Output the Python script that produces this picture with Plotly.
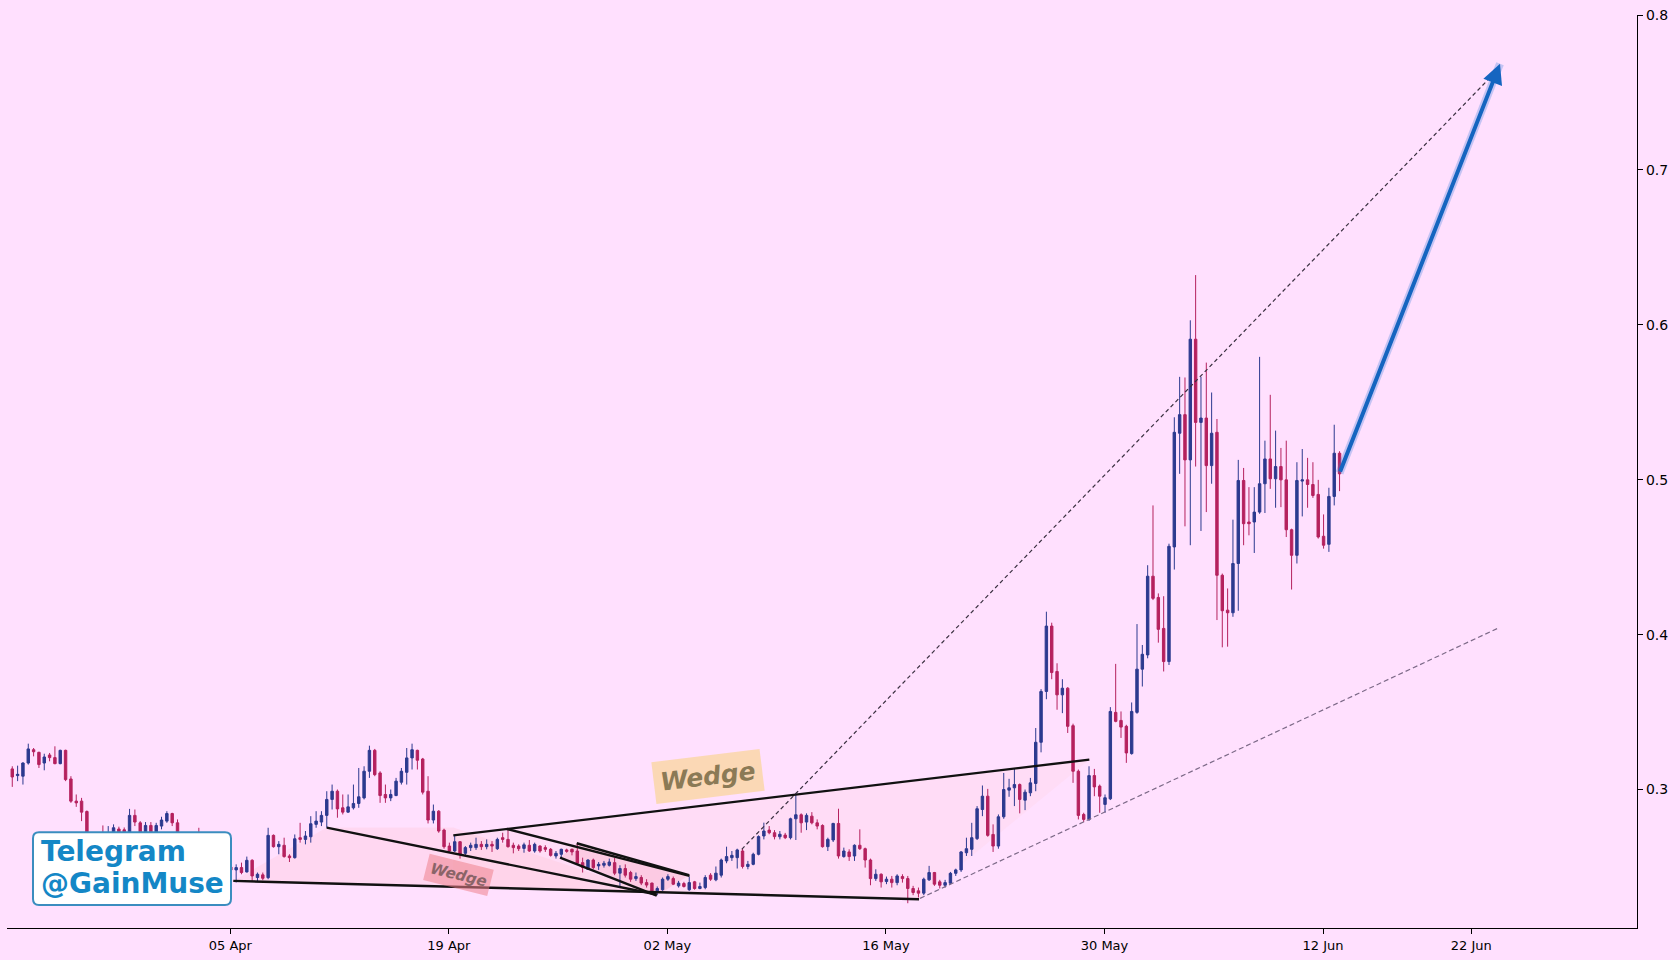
import plotly.graph_objects as go

# ---------------- data (8h candles, index based x axis) ----------------
opens = [0.3133,0.3090,0.3086,0.3171,0.3257,0.3240,0.3171,0.3223,0.3206,0.3167,
0.3253,0.3068,0.2925,0.2925,0.2858,0.2700,0.2640,0.2690,0.2660,0.2700,
0.2745,0.2740,0.2700,0.2833,0.2785,0.2715,0.2768,0.2715,0.2764,0.2796,
0.2845,0.2785,0.2705,0.2640,0.2590,0.2640,0.2600,0.2560,0.2600,0.2520,
0.2470,0.2500,0.2481,0.2496,0.2468,0.2543,0.2432,0.2449,0.2431,0.2704,
0.2631,0.2640,0.2571,0.2560,0.2689,0.2678,0.2695,0.2775,0.2790,0.2833,
0.2936,0.2989,0.2882,0.2854,0.2882,0.2910,0.2946,0.3118,0.3253,0.3107,
0.2968,0.2946,0.2961,0.3047,0.3111,0.3204,0.3253,0.3197,0.2989,0.2803,
0.2860,0.2738,0.2635,0.2603,0.2663,0.2588,0.2625,0.2625,0.2646,0.2631,
0.2646,0.2618,0.2689,0.2678,0.2640,0.2635,0.2620,0.2640,0.2603,0.2635,
0.2625,0.2614,0.2571,0.2582,0.2610,0.2614,0.2603,0.2528,0.2485,0.2545,
0.2507,0.2511,0.2511,0.2528,0.2460,0.2490,0.2464,0.2425,0.2432,0.2399,
0.2396,0.2346,0.2353,0.2421,0.2425,0.2378,0.2393,0.2353,0.2404,0.2361,
0.2367,0.2447,0.2417,0.2447,0.2539,0.2560,0.2560,0.2603,0.2503,0.2517,
0.2582,0.2700,0.2738,0.2721,0.2695,0.2706,0.2689,0.2811,0.2837,0.2790,
0.2828,0.2785,0.2768,0.2631,0.2674,0.2781,0.2567,0.2597,0.2571,0.2640,
0.2618,0.2545,0.2425,0.2453,0.2406,0.2421,0.2399,0.2438,0.2425,0.2361,
0.2346,0.2331,0.2417,0.2464,0.2404,0.2382,0.2395,0.2459,0.2481,0.2592,
0.2614,0.2683,0.2871,0.2957,0.2710,0.2635,0.2824,0.2996,0.3011,0.3032,
0.2931,0.2979,0.3039,0.3305,0.3633,0.4055,0.3762,0.3611,0.3654,0.3412,
0.3118,0.2839,0.2807,0.3090,0.3022,0.2904,0.2940,0.3498,0.3446,0.3408,
0.3232,0.3498,0.3777,0.3869,0.4377,0.4240,0.4040,0.3826,0.4566,0.5300,
0.5420,0.5128,0.5907,0.5370,0.5398,0.5091,0.5306,0.4383,0.4158,0.4141,
0.4459,0.4995,0.4727,0.4727,0.4791,0.4974,0.5134,0.5006,0.5085,0.4999,
0.4677,0.4512,0.4991,0.4999,0.4969,0.4905,0.4635,0.4583,0.4892,0.5171]

highs = [0.3150,0.3154,0.3176,0.3296,0.3268,0.3244,0.3231,0.3236,0.3279,0.3257,
0.3257,0.3086,0.2968,0.2946,0.2865,0.2715,0.2710,0.2768,0.2764,0.2775,
0.2760,0.2755,0.2875,0.2871,0.2796,0.2790,0.2790,0.2785,0.2824,0.2860,
0.2850,0.2807,0.2715,0.2660,0.2721,0.2753,0.2630,0.2620,0.2610,0.2540,
0.2520,0.2510,0.2517,0.2528,0.2567,0.2550,0.2464,0.2464,0.2753,0.2710,
0.2667,0.2689,0.2582,0.2710,0.2785,0.2732,0.2828,0.2860,0.2860,0.2989,
0.3032,0.3000,0.2968,0.2968,0.3032,0.3139,0.3150,0.3283,0.3262,0.3118,
0.3032,0.3000,0.3075,0.3139,0.3268,0.3296,0.3257,0.3204,0.3086,0.2903,
0.2867,0.2747,0.2657,0.2704,0.2667,0.2635,0.2657,0.2689,0.2667,0.2678,
0.2667,0.2689,0.2721,0.2743,0.2657,0.2646,0.2657,0.2674,0.2657,0.2640,
0.2640,0.2622,0.2603,0.2618,0.2618,0.2618,0.2653,0.2560,0.2550,0.2554,
0.2532,0.2539,0.2554,0.2560,0.2511,0.2517,0.2475,0.2464,0.2447,0.2421,
0.2399,0.2374,0.2432,0.2453,0.2438,0.2410,0.2404,0.2438,0.2410,0.2399,
0.2447,0.2460,0.2503,0.2554,0.2631,0.2603,0.2618,0.2618,0.2539,0.2592,
0.2704,0.2786,0.2764,0.2738,0.2732,0.2720,0.2818,0.2974,0.2846,0.2846,
0.2854,0.2807,0.2775,0.2689,0.2785,0.2876,0.2625,0.2614,0.2646,0.2743,
0.2625,0.2554,0.2485,0.2459,0.2438,0.2442,0.2453,0.2453,0.2442,0.2378,
0.2367,0.2431,0.2507,0.2468,0.2417,0.2417,0.2468,0.2489,0.2603,0.2689,
0.2785,0.2893,0.3026,0.3004,0.2775,0.2839,0.3107,0.3069,0.3133,0.3039,
0.3000,0.3075,0.3397,0.3648,0.4148,0.4077,0.3815,0.3712,0.3661,0.3425,
0.3129,0.2850,0.3150,0.3133,0.3032,0.2968,0.3532,0.3811,0.3504,0.3418,
0.3562,0.4068,0.3933,0.4448,0.4834,0.4266,0.4248,0.4587,0.5403,0.5664,
0.5660,0.6029,0.6321,0.5664,0.5756,0.5563,0.5392,0.4394,0.4298,0.4742,
0.5128,0.5076,0.4952,0.4952,0.5793,0.5252,0.5548,0.5317,0.5205,0.5252,
0.4684,0.5113,0.5198,0.5141,0.5113,0.4999,0.4776,0.4948,0.5355,0.5184]

lows = [0.3017,0.3054,0.3032,0.3161,0.3214,0.3139,0.3124,0.3182,0.3163,0.3163,
0.3054,0.2914,0.2888,0.2796,0.2660,0.2620,0.2625,0.2640,0.2650,0.2690,
0.2700,0.2690,0.2690,0.2764,0.2700,0.2705,0.2700,0.2705,0.2743,0.2785,
0.2764,0.2690,0.2620,0.2570,0.2580,0.2585,0.2540,0.2545,0.2500,0.2450,
0.2440,0.2410,0.2400,0.2453,0.2464,0.2404,0.2404,0.2415,0.2421,0.2625,
0.2582,0.2560,0.2532,0.2554,0.2657,0.2646,0.2657,0.2753,0.2764,0.2753,
0.2871,0.2818,0.2839,0.2850,0.2871,0.2882,0.2936,0.3075,0.3086,0.2914,
0.2914,0.2925,0.2957,0.3032,0.3032,0.3129,0.3129,0.2968,0.2781,0.2781,
0.2721,0.2618,0.2592,0.2597,0.2554,0.2575,0.2603,0.2610,0.2610,0.2614,
0.2597,0.2610,0.2657,0.2625,0.2588,0.2603,0.2592,0.2597,0.2592,0.2592,
0.2597,0.2567,0.2554,0.2554,0.2592,0.2575,0.2517,0.2464,0.2481,0.2485,
0.2481,0.2496,0.2503,0.2447,0.2367,0.2432,0.2404,0.2410,0.2383,0.2367,
0.2340,0.2318,0.2346,0.2410,0.2383,0.2367,0.2367,0.2346,0.2353,0.2356,
0.2356,0.2410,0.2408,0.2432,0.2524,0.2539,0.2490,0.2490,0.2485,0.2511,
0.2575,0.2678,0.2711,0.2678,0.2678,0.2680,0.2678,0.2674,0.2721,0.2738,
0.2775,0.2743,0.2625,0.2603,0.2661,0.2554,0.2560,0.2539,0.2539,0.2610,
0.2496,0.2382,0.2410,0.2367,0.2389,0.2367,0.2382,0.2399,0.2266,0.2318,
0.2303,0.2318,0.2410,0.2378,0.2361,0.2367,0.2389,0.2442,0.2468,0.2571,
0.2571,0.2674,0.2828,0.2695,0.2597,0.2618,0.2811,0.2953,0.2893,0.2846,
0.2867,0.2957,0.2989,0.3240,0.3583,0.3712,0.3515,0.3493,0.3365,0.3043,
0.2807,0.2790,0.2797,0.2957,0.2850,0.2850,0.2932,0.3434,0.3333,0.3172,
0.3225,0.3489,0.3665,0.3847,0.4223,0.3948,0.3762,0.3804,0.4420,0.5038,
0.4699,0.4577,0.5085,0.4669,0.4791,0.4974,0.4094,0.3918,0.3922,0.4115,
0.4154,0.4577,0.4641,0.4527,0.4780,0.4785,0.4941,0.4819,0.4823,0.4630,
0.4291,0.4459,0.4763,0.4819,0.4883,0.4620,0.4555,0.4534,0.4834,0.4926]

closes = [0.3081,0.3098,0.3171,0.3262,0.3244,0.3161,0.3210,0.3206,0.3167,0.3253,
0.3064,0.2925,0.2914,0.2854,0.2700,0.2640,0.2680,0.2660,0.2700,0.2753,
0.2725,0.2715,0.2833,0.2790,0.2715,0.2768,0.2715,0.2768,0.2803,0.2845,
0.2785,0.2705,0.2640,0.2590,0.2640,0.2600,0.2560,0.2600,0.2520,0.2470,
0.2500,0.2480,0.2496,0.2464,0.2543,0.2442,0.2453,0.2427,0.2704,0.2631,
0.2646,0.2567,0.2560,0.2682,0.2678,0.2700,0.2779,0.2796,0.2833,0.2936,
0.2989,0.2875,0.2854,0.2888,0.2910,0.2953,0.3118,0.3253,0.3096,0.2961,
0.2946,0.2968,0.3054,0.3118,0.3204,0.3257,0.3189,0.2983,0.2803,0.2860,
0.2732,0.2631,0.2603,0.2663,0.2582,0.2625,0.2640,0.2646,0.2631,0.2646,
0.2635,0.2678,0.2678,0.2631,0.2625,0.2618,0.2643,0.2603,0.2646,0.2603,
0.2614,0.2575,0.2588,0.2614,0.2601,0.2597,0.2524,0.2496,0.2545,0.2496,
0.2517,0.2524,0.2532,0.2460,0.2490,0.2447,0.2421,0.2438,0.2396,0.2383,
0.2346,0.2361,0.2421,0.2438,0.2389,0.2396,0.2374,0.2399,0.2361,0.2374,
0.2432,0.2421,0.2460,0.2545,0.2567,0.2575,0.2610,0.2503,0.2517,0.2582,
0.2696,0.2732,0.2721,0.2696,0.2711,0.2689,0.2811,0.2837,0.2785,0.2833,
0.2785,0.2764,0.2631,0.2678,0.2781,0.2571,0.2603,0.2567,0.2640,0.2618,
0.2545,0.2425,0.2453,0.2404,0.2421,0.2399,0.2442,0.2425,0.2361,0.2335,
0.2331,0.2421,0.2464,0.2389,0.2382,0.2399,0.2459,0.2481,0.2597,0.2618,
0.2689,0.2876,0.2957,0.2704,0.2635,0.2824,0.3000,0.3011,0.3032,0.2936,
0.2983,0.3043,0.3305,0.3633,0.4055,0.3755,0.3611,0.3654,0.3408,0.3118,
0.2833,0.2807,0.3090,0.3017,0.2957,0.2947,0.3504,0.3440,0.3403,0.3236,
0.3504,0.3777,0.3873,0.4377,0.4234,0.4034,0.3826,0.4570,0.5306,0.5420,
0.5128,0.5907,0.5370,0.5398,0.5091,0.5300,0.4383,0.4154,0.4141,0.4459,
0.4995,0.4716,0.4716,0.4791,0.4974,0.5134,0.5006,0.5085,0.4999,0.4677,
0.4512,0.4995,0.4999,0.4969,0.4898,0.4630,0.4577,0.4892,0.5171,0.5038]

tick_pos = [40.9, 81.9, 122.9, 163.9, 204.9, 245.9, 273.7]
tick_labels = ["05 Apr", "19 Apr", "02 May", "16 May", "30 May", "12 Jun", "22 Jun"]
ytick_vals = [0.3, 0.4, 0.5, 0.6, 0.7, 0.8]
ytick_labels = ["0.3", "0.4", "0.5", "0.6", "0.7", "0.8"]

# drawn lines: (x0, y0, x1, y1) in candle index / price
wedge_lines = [
    (82.74, 0.2704, 202.06, 0.3193),   # big wedge top
    (41.46, 0.2410, 170.11, 0.2292),   # big wedge bottom
    (58.99, 0.2754, 120.90, 0.2322),   # small wedge top
    (92.81, 0.2745, 127.05, 0.2443),   # inner line
    (105.89, 0.2653, 126.96, 0.2447),  # channel top
    (102.76, 0.2560, 120.90, 0.2315),  # channel bottom
]
dash_main = (136.85, 0.2614, 278.74, 0.7649)
dash_support = (170.30, 0.2297, 278.74, 0.4042)
arrow_line = (249.0, 0.5043, 279.1, 0.7685)

big_fill = [(82.74, 0.2704), (202.06, 0.3193), (170.11, 0.2292), (82.74, 0.2372)]
small_fill = [(41.46, 0.2410), (58.99, 0.2754), (82.74, 0.2754), (120.90, 0.2322), (120.90, 0.2330)]
channel_fill = [(105.89, 0.2653), (126.96, 0.2447), (120.90, 0.2315), (102.76, 0.2560)]

BG = "#FFE0FE"
UP = "#2C3A8F"
DOWN = "#B5215E"

xs = list(range(len(opens)))

fig = go.Figure()

fig.add_trace(go.Candlestick(
    x=xs, open=opens, high=highs, low=lows, close=closes,
    increasing=dict(line=dict(color=UP, width=1), fillcolor=UP),
    decreasing=dict(line=dict(color=DOWN, width=1), fillcolor=DOWN),
    whiskerwidth=0, showlegend=False, hoverinfo="skip"))

def poly_path(pts):
    return "M " + " L ".join(f"{x},{y}" for x, y in pts) + " Z"

shapes = []
shapes.append(dict(type="path", path=poly_path(big_fill), xref="x", yref="y",
                   fillcolor="rgba(255,200,205,0.16)", line=dict(width=0), layer="below"))
shapes.append(dict(type="path", path=poly_path(small_fill), xref="x", yref="y",
                   fillcolor="rgba(255,180,190,0.20)", line=dict(width=0), layer="below"))
shapes.append(dict(type="path", path=poly_path(channel_fill), xref="x", yref="y",
                   fillcolor="rgba(240,140,160,0.22)", line=dict(width=0), layer="below"))

for (x0, y0, x1, y1) in wedge_lines:
    fig.add_trace(go.Scatter(x=[x0, x1], y=[y0, y1], mode="lines",
                             line=dict(color="#111111", width=2.4),
                             showlegend=False, hoverinfo="skip"))

fig.add_trace(go.Scatter(x=[dash_main[0], dash_main[2]], y=[dash_main[1], dash_main[3]],
                         mode="lines", line=dict(color="#3a3040", width=1.2, dash="4px,3px"),
                         showlegend=False, hoverinfo="skip"))
fig.add_trace(go.Scatter(x=[dash_support[0], dash_support[2]], y=[dash_support[1], dash_support[3]],
                         mode="lines", line=dict(color="#7d6a88", width=1.2, dash="5px,3px"),
                         showlegend=False, hoverinfo="skip"))
# glow under arrow
fig.add_trace(go.Scatter(x=[arrow_line[0], arrow_line[2]], y=[arrow_line[1], arrow_line[3]],
                         mode="lines", line=dict(color="rgba(60,130,220,0.30)", width=8),
                         showlegend=False, hoverinfo="skip"))

# pixel -> paper helpers (plot area 7..1637 x, 13..929 y)
def px(xp):
    return (xp - 7) / 1630.0
def py(yp):
    return (929 - yp) / 916.0

# Telegram box (rounded)
x0b, x1b, y0b, y1b, r = 33, 231, 833, 906, 6
rx, ry = r / 1630.0, r / 916.0
bx0, bx1, by0, by1 = px(x0b), px(x1b), py(y1b), py(y0b)
box_path = (f"M {bx0+rx},{by0} L {bx1-rx},{by0} Q {bx1},{by0} {bx1},{by0+ry} "
            f"L {bx1},{by1-ry} Q {bx1},{by1} {bx1-rx},{by1} L {bx0+rx},{by1} "
            f"Q {bx0},{by1} {bx0},{by1-ry} L {bx0},{by0+ry} Q {bx0},{by0} {bx0+rx},{by0} Z")
shapes.append(dict(type="path", path=box_path, xref="paper", yref="paper",
                   fillcolor="white", line=dict(color="#3B8DBF", width=2), layer="above"))

annotations = []
tg_font = dict(family="DejaVu Sans", size=28, color="#1487C6", weight="bold")
annotations.append(dict(x=px(39), y=py(852), xref="paper", yref="paper", text="Telegram",
                        showarrow=False, xanchor="left", yanchor="middle", font=tg_font))
annotations.append(dict(x=px(39), y=py(884), xref="paper", yref="paper", text="@GainMuse",
                        showarrow=False, xanchor="left", yanchor="middle", font=tg_font))

annotations.append(dict(x=130.5, y=0.3084, xref="x", yref="y", text="<i>Wedge</i>",
                        showarrow=False, textangle=-7,
                        font=dict(family="DejaVu Sans", size=25, color="#8B7A56", weight="bold"),
                        bgcolor="rgba(250,212,150,0.70)", borderpad=6))
annotations.append(dict(x=83.76, y=0.2450, xref="x", yref="y", text="<i>Wedge</i>",
                        showarrow=False, textangle=14,
                        font=dict(family="DejaVu Sans", size=15, color="#8A6468", weight="bold"),
                        bgcolor="rgba(238,130,140,0.55)", borderpad=4))

annotations.append(dict(x=arrow_line[2], y=arrow_line[3], ax=arrow_line[0], ay=arrow_line[1],
                        xref="x", yref="y", axref="x", ayref="y", text="",
                        showarrow=True, arrowhead=2, arrowsize=1.0, arrowwidth=4,
                        arrowcolor="#1565C0"))

fig.update_layout(
    width=1680, height=960,
    margin=dict(l=7, r=43, t=13, b=31),
    paper_bgcolor=BG, plot_bgcolor=BG,
    shapes=shapes, annotations=annotations,
    showlegend=False,
    font=dict(family="DejaVu Sans", color="#000000"),
    boxgap=0.35,
    xaxis=dict(range=[-0.99, 304.8], tickvals=tick_pos, ticktext=tick_labels,
               showgrid=False, zeroline=False, showline=True, linecolor="black", linewidth=1.2,
               ticks="outside", ticklen=5, tickcolor="black", tickwidth=1,
               tickfont=dict(size=13, family="DejaVu Sans", color="black"),
               rangeslider=dict(visible=False), fixedrange=True),
    yaxis=dict(range=[0.2106, 0.8], side="right", tickvals=ytick_vals, ticktext=ytick_labels,
               showgrid=False, zeroline=False, showline=True, linecolor="black", linewidth=1.2,
               ticks="outside", ticklen=5, tickcolor="black", tickwidth=1,
               tickfont=dict(size=14, family="DejaVu Sans", color="black"), fixedrange=True),
)

fig.write_html("out.html")
